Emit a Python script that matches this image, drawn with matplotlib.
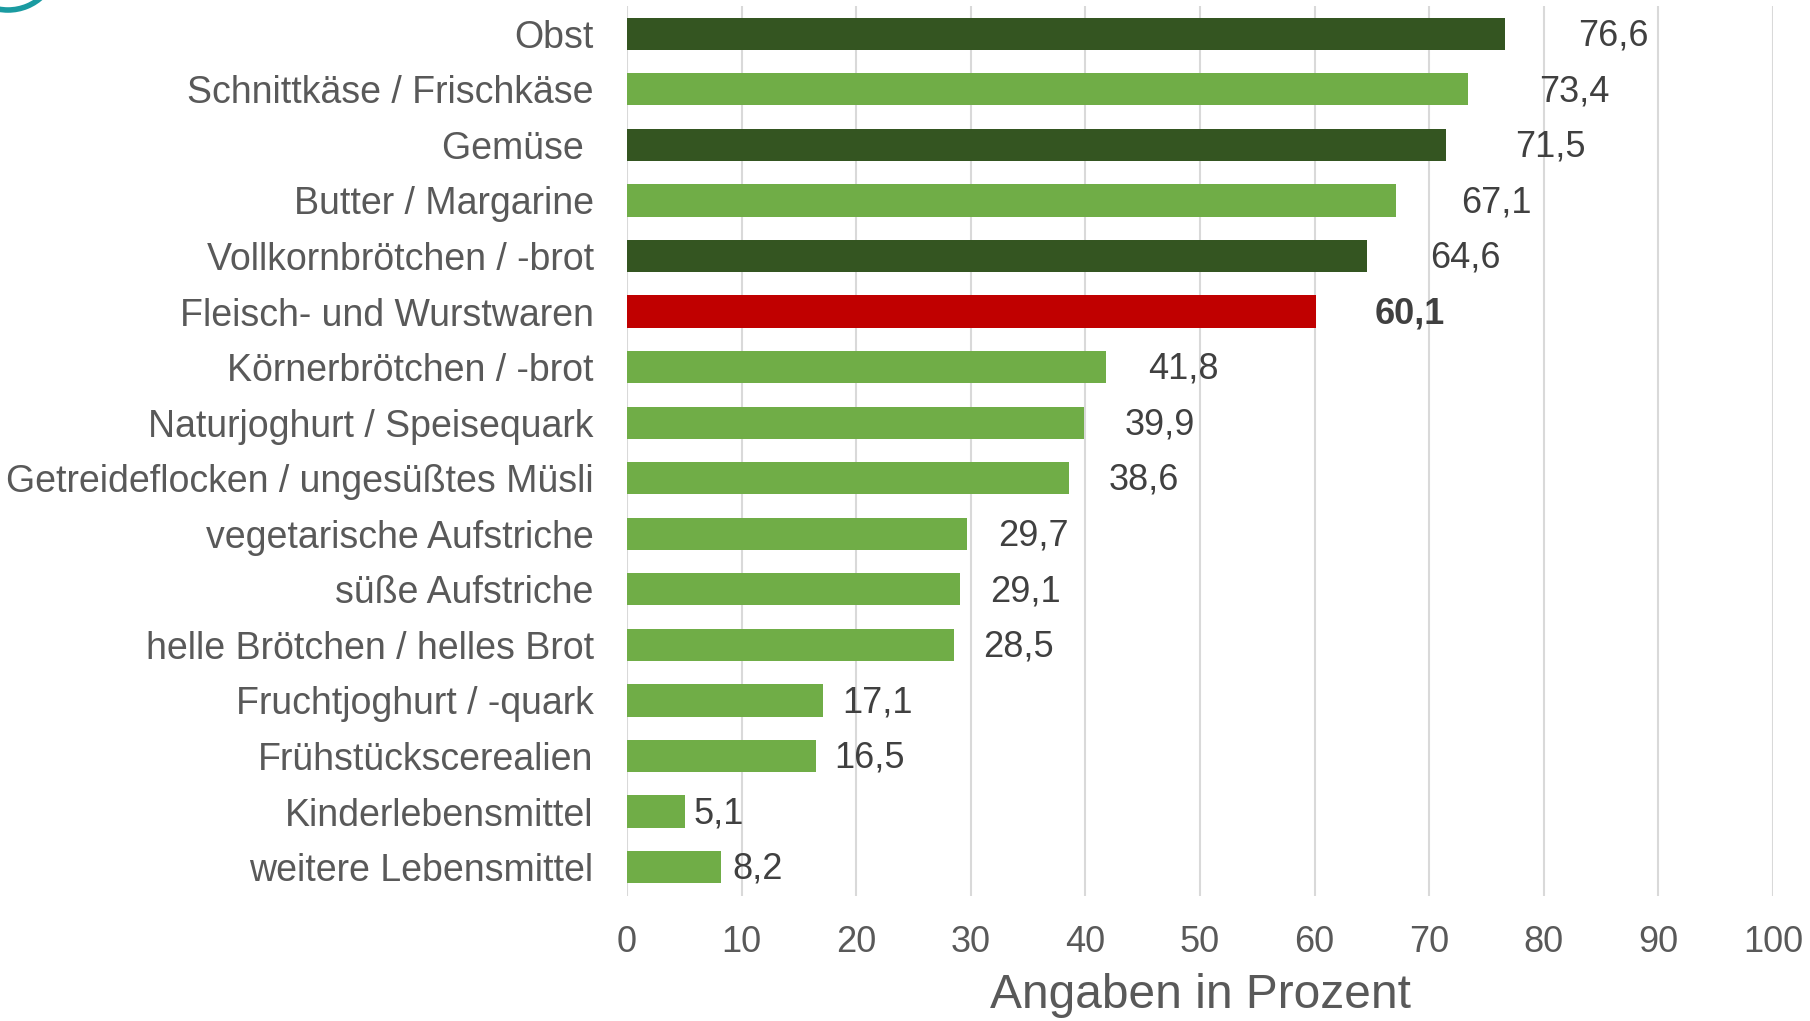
import matplotlib.pyplot as plt
from matplotlib.patches import Arc

plt.rcParams['font.family'] = ['Liberation Sans', 'DejaVu Sans']

# Data (top to bottom)
categories = [
    "Obst", "Schnittkäse / Frischkäse", "Gemüse ", "Butter / Margarine",
    "Vollkornbrötchen / -brot", "Fleisch- und Wurstwaren", "Körnerbrötchen / -brot",
    "Naturjoghurt / Speisequark", "Getreideflocken / ungesüßtes Müsli",
    "vegetarische Aufstriche", "süße Aufstriche", "helle Brötchen / helles Brot",
    "Fruchtjoghurt / -quark", "Frühstückscerealien", "Kinderlebensmittel",
    "weitere Lebensmittel",
]
values = [76.6, 73.4, 71.5, 67.1, 64.6, 60.1, 41.8, 39.9, 38.6, 29.7, 29.1, 28.5,
          17.1, 16.5, 5.1, 8.2]
# group: "dark", "light", "red"
groups = ["dark", "light", "dark", "light", "dark", "red", "light", "light", "light",
          "light", "light", "light", "light", "light", "light", "light"]

colors = {"dark": "#345521", "light": "#70AD47", "red": "#C00000"}

fig = plt.figure(figsize=(18.10, 10.21), dpi=100)
ax = fig.add_axes([0.3464, 0.1224, 0.6332, 0.8717])

y = list(range(len(categories)))
ax.barh(y, values, height=0.58, color=[colors[g] for g in groups], zorder=3)

# value labels
for yi, v, g in zip(y, values, groups):
    ax.text(v * 1.08 + 0.3, yi + 0.04, f"{v:.1f}".replace(".", ","), va="center",
            ha="left", fontsize=26, color="#404040",
            fontweight="bold" if g == "red" else "normal")

ax.set_xlim(0, 100)
ax.set_ylim(len(categories) - 0.48, -0.5)
ax.set_xticks(range(0, 101, 10))
ax.set_yticks(y)
ax.set_yticklabels(categories)
ax.tick_params(axis="y", length=0, pad=24, labelsize=27, labelcolor="#595959")
ax.tick_params(axis="x", length=0, pad=21, labelsize=26, labelcolor="#595959")
ax.grid(axis="x", color="#D9D9D9", linewidth=1.5, zorder=0)
for s in ax.spines.values():
    s.set_visible(False)
ax.set_xlabel("Angaben in Prozent", fontsize=34.5, color="#595959", labelpad=9)

# partial logo ring in the top-left corner
ring = Arc((8 / 1810, 1 + 40 / 1021), 100 / 1810, 100 / 1021, transform=fig.transFigure,
           color="#1A9BA1", linewidth=4, clip_on=False)
fig.add_artist(ring)

fig.savefig("out.png", dpi=100)
